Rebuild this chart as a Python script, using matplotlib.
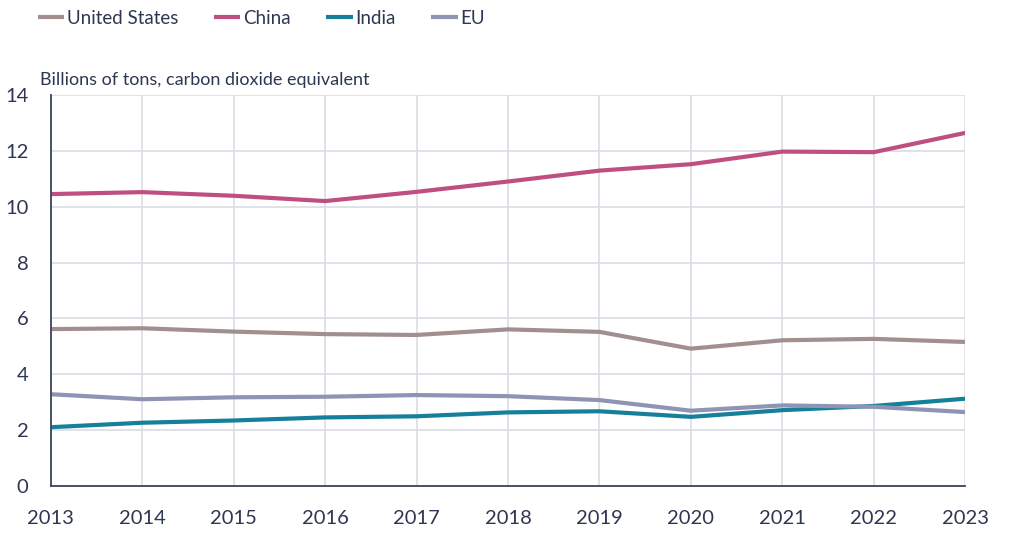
import numpy as np
import matplotlib
matplotlib.use('Agg')
import matplotlib.pyplot as plt

years = [2013, 2014, 2015, 2016, 2017, 2018, 2019, 2020, 2021, 2022, 2023]
united_states = [5.62, 5.65, 5.53, 5.44, 5.41, 5.61, 5.52, 4.92, 5.22, 5.27, 5.16]
china = [10.45, 10.52, 10.39, 10.20, 10.53, 10.90, 11.29, 11.52, 11.97, 11.95, 12.64]
india = [2.11, 2.27, 2.35, 2.46, 2.50, 2.64, 2.68, 2.48, 2.72, 2.87, 3.13]
eu = [3.29, 3.11, 3.18, 3.20, 3.26, 3.22, 3.08, 2.70, 2.89, 2.84, 2.65]

series = [('United States', united_states, '#a18f8f'),
          ('China', china, '#bf4f80'),
          ('India', india, '#16809a'),
          ('EU', eu, '#9094b4')]

text_color = '#2e3652'
plt.rcParams['font.family'] = ['Lato', 'DejaVu Sans']

fig = plt.figure(figsize=(10.14, 5.39), dpi=100)
ax = fig.add_axes([0.05, 0.098, 0.902, 0.726])

for name, vals, col in series:
    ax.plot(years, vals, color=col, lw=3.0, label=name, solid_capstyle='butt')

ax.set_xlim(2013, 2023)
ax.set_ylim(0, 14)
ax.set_xticks(years)
ax.set_yticks(np.arange(0, 15, 2))
ax.grid(True, color='#dcdce5', lw=1.2)
ax.set_axisbelow(True)
for s in ['top', 'right']:
    ax.spines[s].set_visible(False)
for s in ['left', 'bottom']:
    ax.spines[s].set_color('#3c4360')
    ax.spines[s].set_linewidth(1.3)
    ax.spines[s].set_zorder(3)
ax.tick_params(length=0, labelsize=14.5, colors=text_color)
ax.tick_params(axis='y', pad=16)
ax.tick_params(axis='x', pad=17)

# unit label above the plot area
fig.text(40 / 1014, 1 - 80 / 539, 'Billions of tons, carbon dioxide equivalent',
         fontsize=13, color=text_color, ha='left', va='center')

leg = fig.legend(loc='center left', bbox_to_anchor=(38 / 1014, 1 - 18 / 539), ncol=4,
                 frameon=False, fontsize=13.5, borderpad=0, borderaxespad=0,
                 handlelength=1.4, handletextpad=0.15, columnspacing=1.9)
for t in leg.get_texts():
    t.set_color(text_color)

fig.savefig('out.png', dpi=100)
